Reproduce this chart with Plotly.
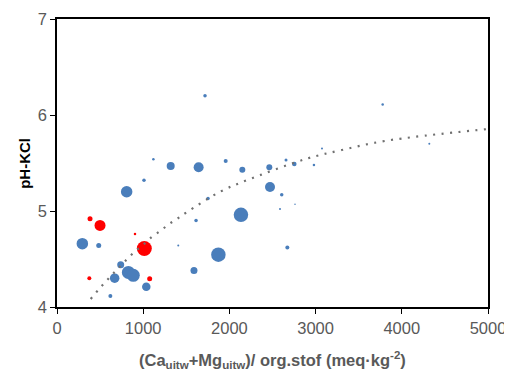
import plotly.graph_objects as go

# blue bubbles: x = (Ca+Mg)/org.stof, y = pH-KCl, size = bubble diameter weight
blue_x = [294, 484, 619, 669, 739, 808, 828, 885, 1009, 1036, 1118, 1319, 1407, 1589,
          1613, 1643, 1717, 1752, 1872, 1957, 2134, 2150, 2463, 2471, 2587, 2607, 2657,
          2672, 2753, 2761, 2981, 3074, 3778, 4319]
blue_y = [4.66, 4.64, 4.115, 4.30, 4.44, 5.20, 4.36, 4.33, 5.32, 4.21, 5.54, 5.47, 4.64, 4.38,
          4.90, 5.455, 6.20, 5.13, 4.545, 5.52, 4.96, 5.43, 5.455, 5.25, 5.02, 5.17, 5.53,
          4.62, 5.49, 5.07, 5.48, 5.65, 6.11, 5.70]
blue_size = [11.5, 5, 4, 9.5, 7, 11.5, 13, 13, 3.5, 8.5, 2.5, 8, 2, 7,
             3.5, 10, 3.5, 3.5, 14.5, 4, 14.5, 6, 6, 10, 2, 3.5, 3,
             4, 4.5, 1.5, 2.5, 2, 2.5, 2]

# red bubbles
red_x = [375, 383, 499, 905, 1013, 1075]
red_y = [4.30, 4.92, 4.85, 4.76, 4.61, 4.295]
red_size = [4, 5, 11, 2.5, 15, 5]

# trendline
trend_x = [391, 491, 596, 692, 789, 893, 990, 1094, 1195, 1295, 1396, 1493, 1891, 2200,
           2897, 3302, 3805, 5000]
trend_y = [4.083, 4.19, 4.295, 4.385, 4.476, 4.57, 4.64, 4.726, 4.79, 4.86, 4.92, 4.98,
           5.20, 5.32, 5.545, 5.635, 5.73, 5.854]

x_title = "<b>(Ca<sub>uitw</sub>+Mg<sub>uitw</sub>)/ org.stof (meq·kg<sup>-2</sup>)</b>"
y_title = "<b>pH-KCl</b>"

fig = go.Figure()
fig.add_trace(go.Scatter(x=blue_x, y=blue_y, mode="markers",
                         marker=dict(size=blue_size, color="#4a7ebb", opacity=1,
                                     line=dict(width=0))))
fig.add_trace(go.Scatter(x=red_x, y=red_y, mode="markers",
                         marker=dict(size=red_size, color="#ff0000", opacity=1,
                                     line=dict(width=0))))
fig.add_trace(go.Scatter(x=trend_x, y=trend_y, mode="lines",
                         line=dict(color="#707070", width=2.2, dash="2px,6.5px", shape="spline")))

axis_font = dict(family="Liberation Sans, Arial", size=16.5, color="#595959")
# page body has an 8px margin, so the figure is a bit smaller than the window
fig.update_layout(
    width=504, height=364,
    margin=dict(l=49, r=24, t=11, b=65),
    plot_bgcolor="white", paper_bgcolor="white",
    showlegend=False,
    xaxis=dict(range=[0, 5000], dtick=1000, showgrid=False, zeroline=False,
               showline=True, linecolor="black", linewidth=1.5, mirror=True,
               ticks="outside", ticklen=5, tickcolor="black", tickfont=axis_font,
               automargin=False),
    yaxis=dict(range=[4, 7], dtick=1, showgrid=False, zeroline=False,
               showline=True, linecolor="black", linewidth=1.5, mirror=True,
               ticks="outside", ticklen=5, tickcolor="black", tickfont=axis_font,
               automargin=False),
)
fig.add_annotation(text=x_title, xref="paper", yref="paper", x=0.5, y=-0.183,
                   showarrow=False, xanchor="center", yanchor="middle",
                   font=dict(family="Liberation Sans, Arial", size=16.5, color="#595959"))
fig.add_annotation(text=y_title, xref="paper", yref="paper", x=-0.077, y=0.5,
                   showarrow=False, xanchor="center", yanchor="middle", textangle=-90,
                   font=dict(family="Liberation Sans, Arial", size=15, color="black"))

fig.write_html("out.html")
